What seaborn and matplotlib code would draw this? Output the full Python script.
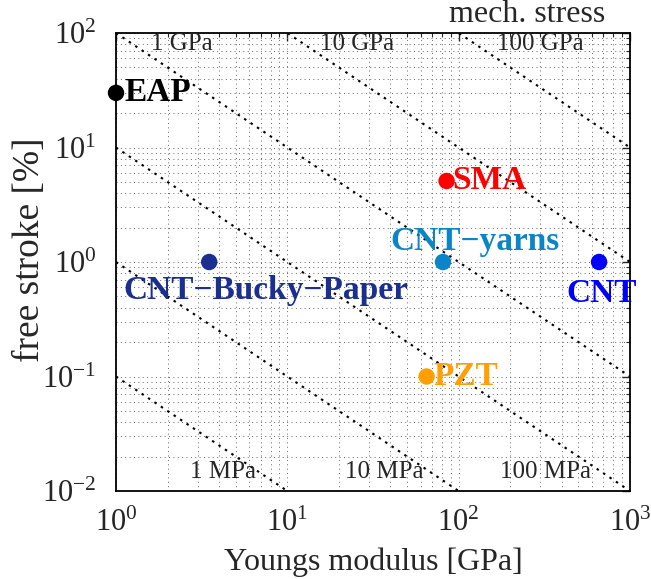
import numpy as np
import pandas as pd
import matplotlib
matplotlib.use("Agg")
import matplotlib.pyplot as plt
import seaborn as sns

# ---- data ----
materials = ["EAP", "SMA", "CNT\u2212yarns", "CNT", "CNT\u2212Bucky\u2212Paper", "PZT"]
youngs_modulus = [1.0, 85.0, 81.0, 660.0, 3.5, 65.0]      # GPa
free_stroke = [30.0, 5.1, 1.0, 1.0, 1.0, 0.1]              # %
colors = ["#000000", "#ff0000", "#0a85c8", "#0000ff", "#1a2f8f", "#ffa000"]

# label anchor positions (data coords, left edge / vertical centre)
label_x = [1.12, 92.0, 39.8, 424.0, 1.097, 71.0]
label_y = [30.0, 5.1, 1.5, 0.536, 0.569, 0.1]

stress_values_GPa = [0.001, 0.01, 0.1, 1.0, 10.0, 100.0]
stress_labels = ["1 MPa", "10 MPa", "100 MPa", "1 GPa", "10 GPa", "100 GPa"]
stress_label_x = [6.6, 62.0, 590.0, 1.6, 15.5, 168.0]
stress_label_y = [0.01475, 0.01475, 0.01475, 80.0, 80.0, 80.0]

# ---- style ----
sns.set_theme(style="white")
plt.rcParams["font.family"] = ["Liberation Serif", "DejaVu Serif"]
plt.rcParams["mathtext.fontset"] = "stix"

fig = plt.figure(figsize=(6.51, 5.79), dpi=100)
ax = fig.add_axes([116/651, 1-491/579, 514/651, 458/579])

ax.set_xscale("log")
ax.set_yscale("log")
ax.set_xlim(1, 1000)
ax.set_ylim(0.01, 100)

# grid
ax.grid(True, which="both", linestyle=(0, (1, 3.5)), color="#666666", linewidth=0.7)

# constant stress lines
E = np.logspace(0, 3, 200)
for s in stress_values_GPa:
    eps = 100.0 * s / E
    sns.lineplot(x=E, y=eps, ax=ax, color="black", linewidth=1.5,
                 linestyle=(0, (1.2, 2.5)), legend=False)

# stress labels
for s, lab, lx, ly in zip(stress_values_GPa, stress_labels, stress_label_x, stress_label_y):
    ha = "right" if s < 1 else "left"
    ax.text(lx, ly, lab, ha=ha, va="center", fontsize=18)

# points
df = pd.DataFrame({"E": youngs_modulus, "eps": free_stroke, "mat": materials})
sns.scatterplot(data=df, x="E", y="eps", hue="mat", palette=dict(zip(materials, colors)),
                s=140, edgecolor="none", legend=False, ax=ax, zorder=5, clip_on=False)

for m, lx, ly, c in zip(materials, label_x, label_y, colors):
    ax.text(lx, ly, m, color=c, fontsize=24, fontweight="bold", ha="left", va="center", zorder=6)

# axes formatting
ax.set_xlabel("Youngs modulus [GPa]", fontsize=23, va="center")
ax.set_ylabel("free stroke [%]", fontsize=27, va="center")
ax.xaxis.set_label_coords(0.5, (491-562)/458)
ax.yaxis.set_label_coords((30-116)/514, (491-250)/458)
ax.tick_params(which="both", direction="in", top=True, right=True, labelsize=22)
ax.tick_params(axis="x", which="major", pad=13)
ax.tick_params(axis="y", which="major", pad=14)
ax.tick_params(which="major", length=6, width=1)
ax.tick_params(which="minor", length=3, width=0.8)
for sp in ax.spines.values():
    sp.set_linewidth(1.3)
    sp.set_color("black")

fig.text(605/651, 1-15/579, "mech. stress", ha="right", va="center", fontsize=23)

fig.savefig("out.png", dpi=100)
